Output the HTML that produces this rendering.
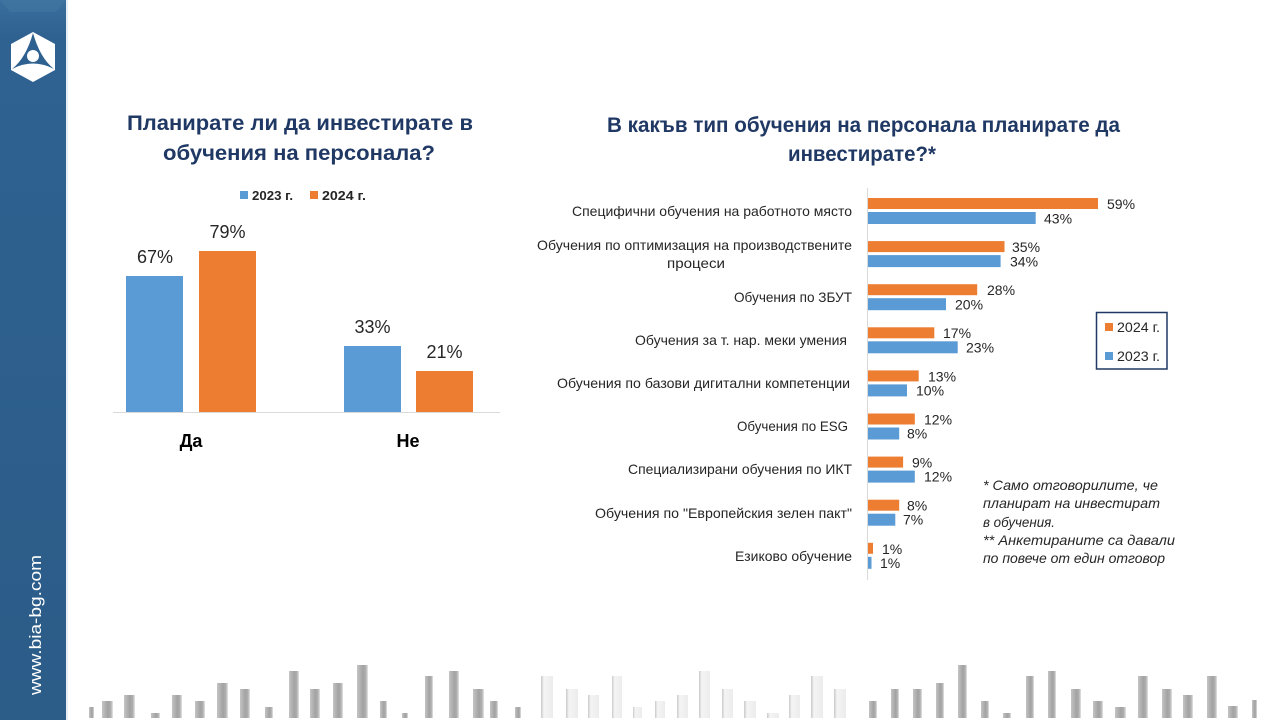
<!DOCTYPE html>
<html>
<head>
<meta charset="utf-8">
<style>
html,body{margin:0;padding:0;background:#fff;}
svg{display:block;}
text{font-family:"Liberation Sans","Noto Sans CJK SC",sans-serif;}
</style>
</head>
<body>
<svg width="1280" height="720" viewBox="0 0 1280 720" xmlns="http://www.w3.org/2000/svg">
<defs>
<linearGradient id="side" x1="0" y1="0" x2="0" y2="1">
<stop offset="0" stop-color="#3a6e9c"/>
<stop offset="0.05" stop-color="#2f6291"/>
<stop offset="1" stop-color="#2c5c88"/>
</linearGradient>
<linearGradient id="gb" x1="0" y1="0" x2="1" y2="0">
<stop offset="0" stop-color="#c4c4c4"/>
<stop offset="0.55" stop-color="#a2a2a2"/>
<stop offset="0.8" stop-color="#b0b0b0"/>
<stop offset="1" stop-color="#e6e6e6"/>
</linearGradient>
<linearGradient id="wb" x1="0" y1="0" x2="1" y2="0">
<stop offset="0" stop-color="#c9c9c9"/>
<stop offset="0.25" stop-color="#f4f4f4"/>
<stop offset="1" stop-color="#ececec"/>
</linearGradient>
</defs>

<rect x="0" y="0" width="1280" height="720" fill="#fff"/>

<!-- sidebar -->
<rect x="0" y="0" width="66" height="720" fill="url(#side)"/>
<polygon points="0,0 66,0 56,12 10,12" fill="#4479a6" opacity="0.5"/>
<rect x="66" y="0" width="2" height="720" fill="#e8eef4"/>
<!-- logo -->
<polygon points="33,32 55,44 55,70 33,82 11,70 11,44" fill="#fff"/>
<path d="M33,33 Q26,58 12,69 Q33,58 54,69 Q40,58 33,33 Z" fill="#2e6090"/>
<circle cx="33" cy="56" r="6" fill="#fff"/>
<text x="0" y="0" transform="translate(41,695) rotate(-90)" font-size="17" fill="#fff" textLength="140" lengthAdjust="spacingAndGlyphs">www.bia-bg.com</text>

<!-- LEFT CHART -->
<g fill="#203864" font-weight="bold" font-size="21">
<text x="127" y="130" textLength="346" lengthAdjust="spacingAndGlyphs">Планирате ли да инвестирате в</text>
<text x="163" y="160" textLength="272" lengthAdjust="spacingAndGlyphs">обучения на персонала?</text>
</g>
<rect x="240" y="191" width="8" height="8" fill="#5b9bd5"/>
<text x="252" y="200" font-size="13" font-weight="bold" fill="#262626" textLength="41" lengthAdjust="spacingAndGlyphs">2023 г.</text>
<rect x="310" y="191" width="8" height="8" fill="#ed7d31"/>
<text x="322" y="200" font-size="13" font-weight="bold" fill="#262626" textLength="44" lengthAdjust="spacingAndGlyphs">2024 г.</text>

<rect x="126" y="276" width="57" height="136" fill="#5b9bd5"/>
<rect x="199" y="251" width="57" height="161" fill="#ed7d31"/>
<rect x="344" y="346" width="57" height="66" fill="#5b9bd5"/>
<rect x="416" y="371" width="57" height="41" fill="#ed7d31"/>
<line x1="113" y1="412.5" x2="500" y2="412.5" stroke="#d9d9d9" stroke-width="1"/>
<g font-size="18" fill="#262626" text-anchor="middle">
<text x="155" y="263">67%</text>
<text x="227.5" y="238">79%</text>
<text x="372.5" y="333">33%</text>
<text x="444.5" y="358">21%</text>
</g>
<g font-size="18" font-weight="bold" fill="#000" text-anchor="middle">
<text x="191" y="447">Да</text>
<text x="408" y="447">Не</text>
</g>

<!-- RIGHT CHART -->
<g fill="#203864" font-weight="bold" font-size="21">
<text x="607" y="132" textLength="513" lengthAdjust="spacingAndGlyphs">В какъв тип обучения на персонала планирате да</text>
<text x="788" y="161" textLength="148" lengthAdjust="spacingAndGlyphs">инвестирате?*</text>
</g>

<line x1="867.5" y1="188" x2="867.5" y2="580" stroke="#d9d9d9" stroke-width="1"/>

<g font-size="14" fill="#262626" text-anchor="end">
<text x="852" y="216" textLength="280" lengthAdjust="spacingAndGlyphs">Специфични обучения на работното място</text>
<text x="852" y="250" textLength="315" lengthAdjust="spacingAndGlyphs">Обучения по оптимизация на производствените</text>
<text x="725" y="268" textLength="58" lengthAdjust="spacingAndGlyphs">процеси</text>
<text x="852" y="302" textLength="118" lengthAdjust="spacingAndGlyphs">Обучения по ЗБУТ</text>
<text x="847" y="345" textLength="212" lengthAdjust="spacingAndGlyphs">Обучения за т. нар. меки умения</text>
<text x="850" y="388" textLength="293" lengthAdjust="spacingAndGlyphs">Обучения по базови дигитални компетенции</text>
<text x="848" y="431" textLength="111" lengthAdjust="spacingAndGlyphs">Обучения по ESG</text>
<text x="852" y="474" textLength="224" lengthAdjust="spacingAndGlyphs">Специализирани обучения по ИКТ</text>
<text x="852" y="518" textLength="257" lengthAdjust="spacingAndGlyphs">Обучения по "Европейския зелен пакт"</text>
<text x="852" y="561" textLength="117" lengthAdjust="spacingAndGlyphs">Езиково обучение</text>
</g>

<!-- bars: y0 = 198 + 43.1*i ; orange h11, blue y0+14 h12 ; scale 3.9 -->
<g>
<rect x="868" y="198" width="230" height="11" fill="#ed7d31"/>
<rect x="868" y="212" width="167.7" height="12" fill="#5b9bd5"/>
<rect x="868" y="241.1" width="136.5" height="11" fill="#ed7d31"/>
<rect x="868" y="255.1" width="132.6" height="12" fill="#5b9bd5"/>
<rect x="868" y="284.2" width="109.2" height="11" fill="#ed7d31"/>
<rect x="868" y="298.2" width="78" height="12" fill="#5b9bd5"/>
<rect x="868" y="327.3" width="66.3" height="11" fill="#ed7d31"/>
<rect x="868" y="341.3" width="89.7" height="12" fill="#5b9bd5"/>
<rect x="868" y="370.4" width="50.7" height="11" fill="#ed7d31"/>
<rect x="868" y="384.4" width="39" height="12" fill="#5b9bd5"/>
<rect x="868" y="413.5" width="46.8" height="11" fill="#ed7d31"/>
<rect x="868" y="427.5" width="31.2" height="12" fill="#5b9bd5"/>
<rect x="868" y="456.6" width="35.1" height="11" fill="#ed7d31"/>
<rect x="868" y="470.6" width="46.8" height="12" fill="#5b9bd5"/>
<rect x="868" y="499.7" width="31.2" height="11" fill="#ed7d31"/>
<rect x="868" y="513.7" width="27.3" height="12" fill="#5b9bd5"/>
<rect x="868" y="542.8" width="5" height="11" fill="#ed7d31"/>
<rect x="868" y="556.8" width="3.5" height="12" fill="#5b9bd5"/>
</g>
<g font-size="14" fill="#262626">
<text x="1107" y="209">59%</text>
<text x="1044" y="223.5">43%</text>
<text x="1012" y="252">35%</text>
<text x="1010" y="266.5">34%</text>
<text x="987" y="295">28%</text>
<text x="955" y="309.5">20%</text>
<text x="943" y="338">17%</text>
<text x="966" y="352.5">23%</text>
<text x="928" y="381.5">13%</text>
<text x="916" y="395.5">10%</text>
<text x="924" y="424.5">12%</text>
<text x="907" y="438.5">8%</text>
<text x="912" y="467.5">9%</text>
<text x="924" y="481.5">12%</text>
<text x="907" y="510.5">8%</text>
<text x="903" y="524.5">7%</text>
<text x="882" y="554">1%</text>
<text x="880" y="568">1%</text>
</g>

<!-- legend right -->
<rect x="1096.5" y="312.5" width="70.5" height="56.5" fill="#fff" stroke="#203864" stroke-width="1.5"/>
<rect x="1105" y="323" width="8" height="8" fill="#ed7d31"/>
<text x="1117" y="332" font-size="14" fill="#262626" textLength="43" lengthAdjust="spacingAndGlyphs">2024 г.</text>
<rect x="1105" y="352" width="8" height="8" fill="#5b9bd5"/>
<text x="1117" y="361" font-size="14" fill="#262626" textLength="43" lengthAdjust="spacingAndGlyphs">2023 г.</text>

<!-- footnote -->
<g font-size="14" font-style="italic" fill="#262626">
<text x="983" y="490" textLength="175" lengthAdjust="spacingAndGlyphs">* Само отговорилите, че</text>
<text x="983" y="508" textLength="177" lengthAdjust="spacingAndGlyphs">планират на инвестират</text>
<text x="983" y="527" textLength="72" lengthAdjust="spacingAndGlyphs">в обучения.</text>
<text x="983" y="545" textLength="192" lengthAdjust="spacingAndGlyphs">** Анкетираните са давали</text>
<text x="983" y="563" textLength="182" lengthAdjust="spacingAndGlyphs">по повече от един отговор</text>
</g>

<!-- decorative bottom bars -->
<g fill="url(#gb)">
<rect x="89" y="707" width="5" height="11"/>
<rect x="102" y="701" width="11" height="17"/>
<rect x="124" y="695" width="11" height="23"/>
<rect x="151" y="713" width="9" height="5"/>
<rect x="172" y="695" width="10" height="23"/>
<rect x="195" y="701" width="10" height="17"/>
<rect x="217" y="683" width="11" height="35"/>
<rect x="240" y="689" width="10" height="29"/>
<rect x="265" y="707" width="8" height="11"/>
<rect x="289" y="671" width="10" height="47"/>
<rect x="310" y="689" width="10" height="29"/>
<rect x="333" y="683" width="10" height="35"/>
<rect x="357" y="665" width="11" height="53"/>
<rect x="380" y="701" width="7" height="17"/>
<rect x="402" y="713" width="6" height="5"/>
<rect x="425" y="676" width="8" height="42"/>
<rect x="449" y="671" width="10" height="47"/>
<rect x="473" y="689" width="11" height="29"/>
<rect x="490" y="701" width="8" height="17"/>
<rect x="515" y="707" width="6" height="11"/>
</g>
<g fill="url(#wb)">
<rect x="541" y="676" width="12" height="42"/>
<rect x="566" y="689" width="12" height="29"/>
<rect x="588" y="695" width="11" height="23"/>
<rect x="612" y="676" width="10" height="42"/>
<rect x="633" y="707" width="9" height="11"/>
<rect x="655" y="701" width="10" height="17"/>
<rect x="677" y="695" width="11" height="23"/>
<rect x="699" y="671" width="11" height="47"/>
<rect x="722" y="689" width="11" height="29"/>
<rect x="744" y="701" width="12" height="17"/>
<rect x="767" y="713" width="12" height="5"/>
<rect x="789" y="695" width="11" height="23"/>
<rect x="811" y="676" width="12" height="42"/>
<rect x="834" y="689" width="12" height="29"/>
</g>
<g fill="url(#gb)">
<rect x="869" y="701" width="8" height="17"/>
<rect x="891" y="689" width="8" height="29"/>
<rect x="913" y="689" width="9" height="29"/>
<rect x="936" y="683" width="8" height="35"/>
<rect x="958" y="665" width="9" height="53"/>
<rect x="981" y="701" width="8" height="17"/>
<rect x="1003" y="713" width="8" height="5"/>
<rect x="1026" y="676" width="8" height="42"/>
<rect x="1048" y="671" width="8" height="47"/>
<rect x="1071" y="689" width="10" height="29"/>
<rect x="1093" y="701" width="10" height="17"/>
<rect x="1115" y="707" width="11" height="11"/>
<rect x="1138" y="676" width="10" height="42"/>
<rect x="1162" y="689" width="10" height="29"/>
<rect x="1183" y="695" width="10" height="23"/>
<rect x="1207" y="676" width="10" height="42"/>
<rect x="1228" y="706" width="10" height="12"/>
<rect x="1252" y="700" width="5" height="18"/>
</g>
</svg>
</body>
</html>
